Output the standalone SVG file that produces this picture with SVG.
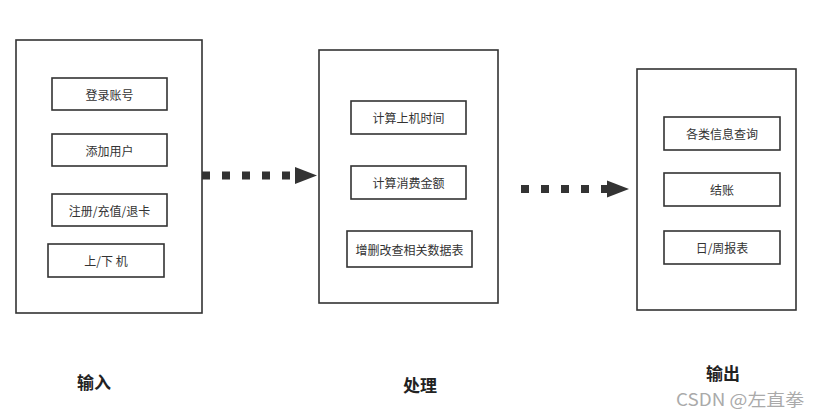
<svg xmlns="http://www.w3.org/2000/svg" width="821" height="412" viewBox="0 0 821 412">
<style>
.box{fill:#fff;stroke:#333;stroke-width:1.6}
.t{font-family:"Noto Sans CJK SC","Noto Sans",sans-serif;font-size:12px;fill:#333;text-anchor:middle;dominant-baseline:central}
.h{font-family:"Noto Sans CJK SC","Noto Sans",sans-serif;font-size:17px;font-weight:bold;fill:#222;text-anchor:middle;dominant-baseline:central}
.dot{stroke:#333;stroke-width:8;stroke-dasharray:8 12;fill:none}
.ah{fill:#333}
</style>
<rect width="821" height="412" fill="#fff"/>
<g id="input">
<rect class="box" x="16" y="40" width="186" height="273"/>
<g id="n-login"><rect class="box" x="52" y="78" width="115" height="32"/><text class="t" x="109.5" y="94">登录账号</text></g>
<g id="n-adduser"><rect class="box" x="52" y="134" width="115" height="32"/><text class="t" x="109.5" y="150">添加用户</text></g>
<g id="n-register"><rect class="box" x="52" y="194" width="115" height="32"/><text class="t" x="109.5" y="210">注册/充值/退卡</text></g>
<g id="n-onoff"><rect class="box" x="48" y="244" width="116" height="33"/><text class="t" x="106" y="260">上/下 机</text></g>
</g>
<g id="process">
<rect class="box" x="319" y="50" width="179" height="253"/>
<g id="n-time"><rect class="box" x="351" y="101" width="115" height="33"/><text class="t" x="408.5" y="117">计算上机时间</text></g>
<g id="n-fee"><rect class="box" x="351" y="166" width="115" height="33"/><text class="t" x="408.5" y="182">计算消费金额</text></g>
<g id="n-crud"><rect class="box" x="347" y="231" width="125" height="36"/><text class="t" x="409.5" y="249">增删改查相关数据表</text></g>
</g>
<g id="output">
<rect class="box" x="637" y="69" width="159" height="241"/>
<g id="n-query"><rect class="box" x="664" y="117" width="116" height="33"/><text class="t" x="722" y="133">各类信息查询</text></g>
<g id="n-checkout"><rect class="box" x="664" y="173" width="116" height="33"/><text class="t" x="722" y="189">结账</text></g>
<g id="n-report"><rect class="box" x="664" y="231" width="116" height="33"/><text class="t" x="722" y="247">日/周报表</text></g>
</g>
<g id="connectors">
<line class="dot" x1="202" y1="175.5" x2="298" y2="175.5"/>
<polygon class="ah" points="295,167 317,175.5 295,184"/>
<line class="dot" x1="521" y1="189" x2="610" y2="189"/>
<polygon class="ah" points="607,180.5 629,189 607,197.5"/>
</g>
<g id="labels">
<text class="h" x="94" y="381">输入</text>
<text class="h" x="420" y="384">处理</text>
<text class="h" x="723" y="372">输出</text>
<text x="740" y="398" font-family="'Noto Sans CJK SC','Noto Sans',sans-serif" font-size="17" fill="#aaa" text-anchor="middle" dominant-baseline="central" textLength="128" lengthAdjust="spacingAndGlyphs">CSDN @左直拳</text>
</g>
</svg>
